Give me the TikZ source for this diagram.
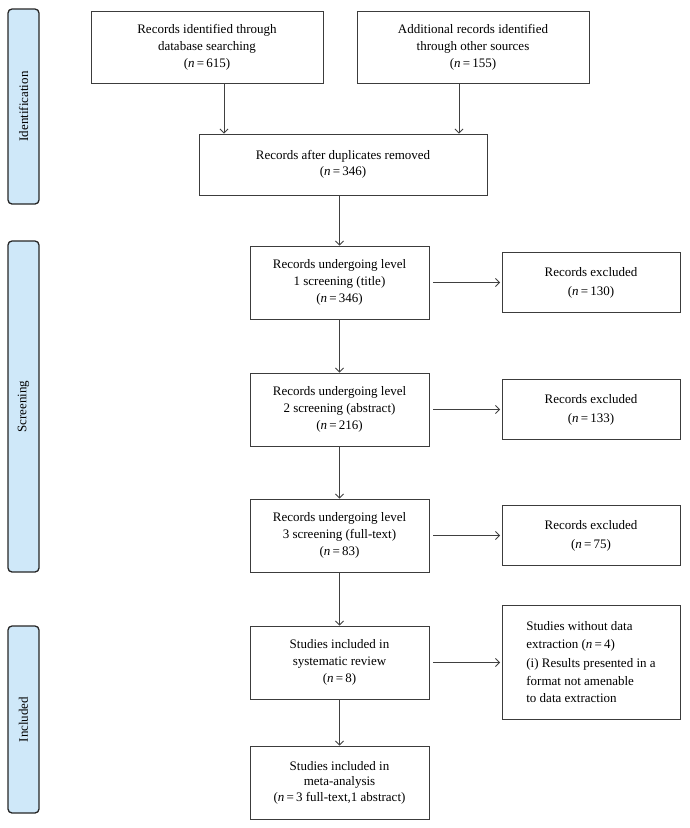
\documentclass[tikz,border=0pt]{standalone}
\usepackage{fontspec}
\setmainfont{Liberation Serif}
\usetikzlibrary{positioning,arrows.meta}
\definecolor{phaseblue}{HTML}{CFE8F9}
\definecolor{boxline}{HTML}{3C3C3C}
\definecolor{linegray}{HTML}{404040}

\begin{document}
\begin{tikzpicture}[x=1pt,y=-1pt,->,>={Straight Barb[length=4pt,width=8pt]},
        node distance=251.5pt,line width=0.8pt,
        main node/.style={draw=boxline,line width=0.9pt,align=center,minimum width=179pt,
                          minimum height=73pt,inner sep=2pt,font=\fontsize{13}{17}\selectfont},
        excl node/.style={main node,minimum width=178pt,minimum height=60pt,font=\fontsize{13}{19}\selectfont},
        phase/.style={draw=black!85,fill=phaseblue,rounded corners=4pt,line width=1.3pt,rotate=90,
                      minimum height=31pt,inner sep=0pt,font=\fontsize{13}{16}\selectfont}]

        \useasboundingbox (0,0) rectangle (689,828);

        \node[phase,minimum width=195pt] (ident) at (23.5,106.5) {Identification};
        \node[phase,minimum width=331pt] (screen) at (23.5,406.5) {Screening};
        \node[phase,minimum width=187pt] (incl) at (23.5,719.5) {Included};

        \node[main node,minimum width=232pt,minimum height=72pt] (db) at (207,47)
            {Records identified through\\database searching\\(\textit{n}\,=\,615)};
        \node[main node,minimum width=232pt,minimum height=72pt] (other) at (473,47)
            {Additional records identified\\through other sources\\(\textit{n}\,=\,155)};
        \node[main node,minimum width=288pt,minimum height=61pt,font=\fontsize{13}{15.5}\selectfont] (dup) at (343,164.5)
            {Records after duplicates removed\\(\textit{n}\,=\,346)};
        \node[main node] (lvl1) at (339.5,282.5) {Records undergoing level\\1 screening (title)\\(\textit{n}\,=\,346)};
        \node[main node] (lvl2) at (339.5,409.5) {Records undergoing level\\2 screening (abstract)\\(\textit{n}\,=\,216)};
        \node[main node] (lvl3) at (339.5,535.5) {Records undergoing level\\3 screening (full-text)\\(\textit{n}\,=\,83)};
        \node[main node] (rev) at (339.5,662.5) {Studies included in\\systematic review\\(\textit{n}\,=\,8)};
        \node[main node,font=\fontsize{13}{15.5}\selectfont] (meta) at (339.5,782.5)
            {Studies included in\\meta-analysis\\(\textit{n}\,=\,3 full-text,1 abstract)};

        \node[excl node] (ex1) [right of=lvl1] {Records excluded\\(\textit{n}\,=\,130)};
        \node[excl node] (ex2) [right of=lvl2] {Records excluded\\(\textit{n}\,=\,133)};
        \node[excl node] (ex3) [right of=lvl3] {Records excluded\\(\textit{n}\,=\,75)};
        \node[excl node,minimum height=114pt,align=left,
              font=\fontsize{13}{17.5}\selectfont] (ex4) [right of=rev]
            {Studies without data\\extraction (\textit{n}\,=\,4)\\[2pt](i) Results presented in a\\format not amenable\\to data extraction};

        \draw[linegray] ([xshift=17pt]db.south) -- ([xshift=17pt]db.south |- dup.north);
        \draw[linegray] ([xshift=-14pt]other.south) -- ([xshift=-14pt]other.south |- dup.north);

        \path[every edge/.style={draw=linegray}]
            (dup.south -| lvl1.north) edge (lvl1.north)
            (lvl1) edge (lvl2)
            (lvl2) edge (lvl3)
            (lvl3) edge (rev)
            (rev) edge (meta);

        \path[every edge/.style={draw=linegray,shorten <=4pt,shorten >=1.5pt}]
            (lvl1) edge (ex1)
            (lvl2) edge (ex2)
            (lvl3) edge (ex3)
            (rev) edge (ex4);
\end{tikzpicture}
\end{document}
